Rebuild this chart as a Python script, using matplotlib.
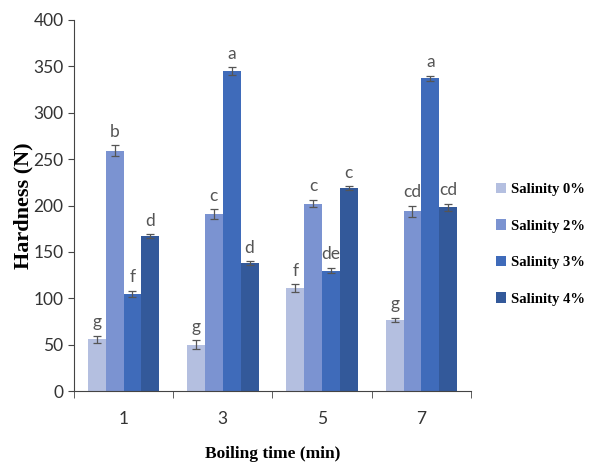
import matplotlib.pyplot as plt
import numpy as np

boiling_times = ['1', '3', '5', '7']
series_names = ['Salinity 0%', 'Salinity 2%', 'Salinity 3%', 'Salinity 4%']

# hardness (N) per salinity, one value per boiling time
salinity_0 = [56, 50, 111, 77]
salinity_2 = [259, 191, 202, 194]
salinity_3 = [105, 345, 130, 337]
salinity_4 = [167, 138, 219, 198]

err_0 = [4, 5, 4, 2]
err_2 = [6, 5, 4, 6]
err_3 = [3, 4, 3, 3]
err_4 = [2, 2, 2, 4]

letters_0 = ['g', 'g', 'f', 'g']
letters_2 = ['b', 'c', 'c', 'cd']
letters_3 = ['f', 'a', 'de', 'a']
letters_4 = ['d', 'd', 'c', 'cd']

values = [salinity_0, salinity_2, salinity_3, salinity_4]
errors = [err_0, err_2, err_3, err_4]
letters = [letters_0, letters_2, letters_3, letters_4]
colors = ['#B4BFE0', '#7B93D1', '#3F6BBA', '#33599A']

fig = plt.figure(figsize=(5.91, 4.63), dpi=100)
ax = fig.add_axes([0.125, 0.155, 0.672, 0.802])

x = np.arange(len(boiling_times))
w = 0.18
for i in range(4):
    pos = x + (i - 1.5) * w
    ax.bar(pos, values[i], w, color=colors[i], label=series_names[i],
           yerr=errors[i], capsize=3,
           error_kw=dict(ecolor='#555555', elinewidth=0.9, capthick=0.9))
    for p, v, e, t in zip(pos, values[i], errors[i], letters[i]):
        ax.text(p, v + e + 6, t, ha='center', va='bottom', fontsize=12.5,
                color='#555555', family='Lato')

ax.set_xlim(-0.5, 3.5)
ax.set_ylim(0, 400)
ax.set_yticks(range(0, 401, 50))
ax.set_xticks(x)
ax.set_xticklabels(boiling_times)
ax.set_xticks(np.arange(-0.5, 4, 1), minor=True)
ax.tick_params(axis='x', which='major', length=0, pad=14)
ax.tick_params(axis='x', which='minor', length=5, direction='out', color='#444444')
ax.tick_params(axis='y', length=4, direction='out', color='#444444')
for lab in ax.get_xticklabels() + ax.get_yticklabels():
    lab.set_family('Lato')
    lab.set_fontsize(12.5)
    lab.set_color('#333333')

ax.spines['top'].set_visible(False)
ax.spines['right'].set_visible(False)
ax.spines['left'].set_color('#444444')
ax.spines['bottom'].set_color('#444444')

ax.set_xlabel('Boiling time (min)', family='Liberation Serif', fontweight='bold',
              fontsize=12.5, labelpad=14)
ax.set_ylabel('Hardness (N)', family='Liberation Serif', fontweight='bold',
              fontsize=16, labelpad=0)

leg = ax.legend(loc='center left', bbox_to_anchor=(1.03, 0.396), frameon=False,
                handlelength=0.7, handleheight=0.7, handletextpad=0.3,
                labelspacing=1.6,
                prop={'family': 'Liberation Serif', 'weight': 'bold', 'size': 10.5})

fig.savefig('out.png', dpi=100)
